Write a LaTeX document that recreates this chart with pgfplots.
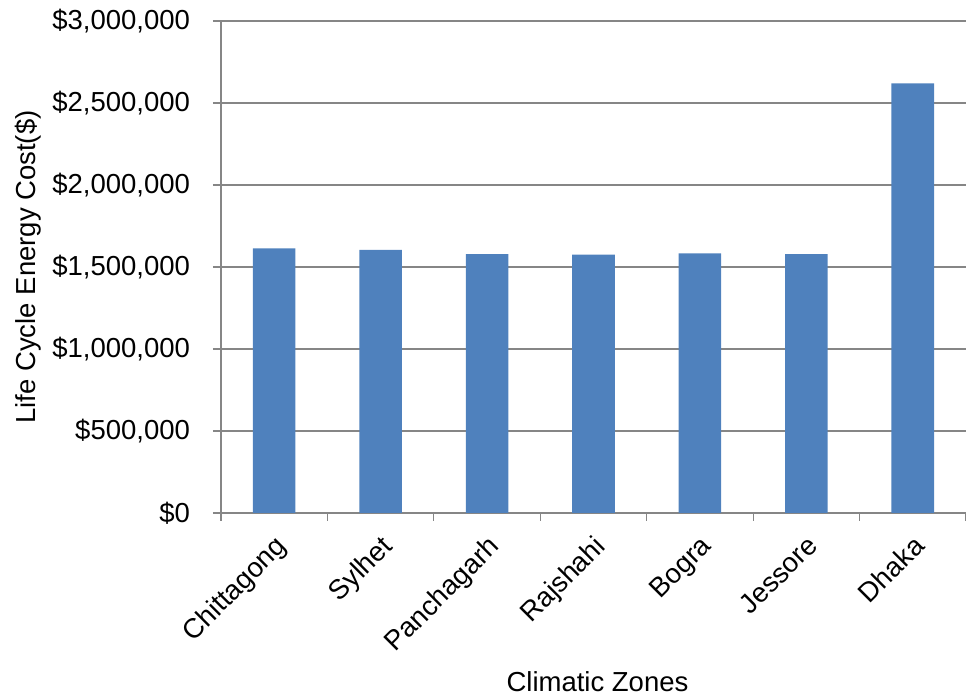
\documentclass[border=0pt]{standalone}
\usepackage{pgfplots}
\pgfplotsset{compat=1.18}
\usepackage{fontspec}
\setmainfont{Liberation Sans}
\definecolor{barblue}{HTML}{4F81BD}
\definecolor{axgray}{HTML}{868686}
\pgfplotstableread{
x cost
0 1614000
1 1604000
2 1579000
3 1575000
4 1583500
5 1579000
6 2620000
}\datatable
\begin{document}
\begin{tikzpicture}
\path[use as bounding box] (0,0) rectangle (483pt,348pt);
\begin{axis}[
  at={(110.5pt,91.5pt)}, anchor=south west,
  scale only axis, width=372.5pt, height=246pt,
  xmin=-0.5, xmax=6.5, ymin=0, ymax=3000000,
  axis x line=bottom, axis y line=left,
  axis line style={axgray, line width=0.6pt, -},
  xtick={0,...,6},
  xticklabels={Chittagong,Sylhet,Panchagarh,Rajshahi,Bogra,Jessore,Dhaka},
  major x tick style={draw=none},
  minor xtick={-0.5,0.5,...,6.5},
  minor tick length=4pt,
  minor x tick style={axgray, line width=0.6pt},
  ytick={0,500000,...,3000000},
  yticklabels={{\$0},{\$500,000},{\$1,000,000},{\$1,500,000},{\$2,000,000},{\$2,500,000},{\$3,000,000}},
  scaled y ticks=false,
  major tick length=4pt,
  tick align=outside,
  ytick style={axgray, line width=0.6pt},
  ymajorgrids, grid style={axgray, line width=0.6pt},
  tick label style={font=\fontsize{13.75}{16.5}\selectfont, text=black},
  yticklabel style={anchor=east, xshift=-8pt},
  xticklabel style={xshift=-0.35pt, yshift=-1.5pt, rotate=45, anchor=north east},
  label style={font=\fontsize{13.75}{16.5}\selectfont},
  xlabel={Climatic Zones},
  ylabel={Life Cycle Energy Cost(\$)},
  xlabel style={at={(0.5,0)}, anchor=south, yshift=-93pt, xshift=2pt},
  ylabel style={at={(0,0.5)}, anchor=center, yshift=96.5pt},
  clip=false,
]
\addplot[ybar, bar width=0.4, fill=barblue, draw=none] table[x=x, y=cost] {\datatable};
\end{axis}
\end{tikzpicture}
\end{document}
